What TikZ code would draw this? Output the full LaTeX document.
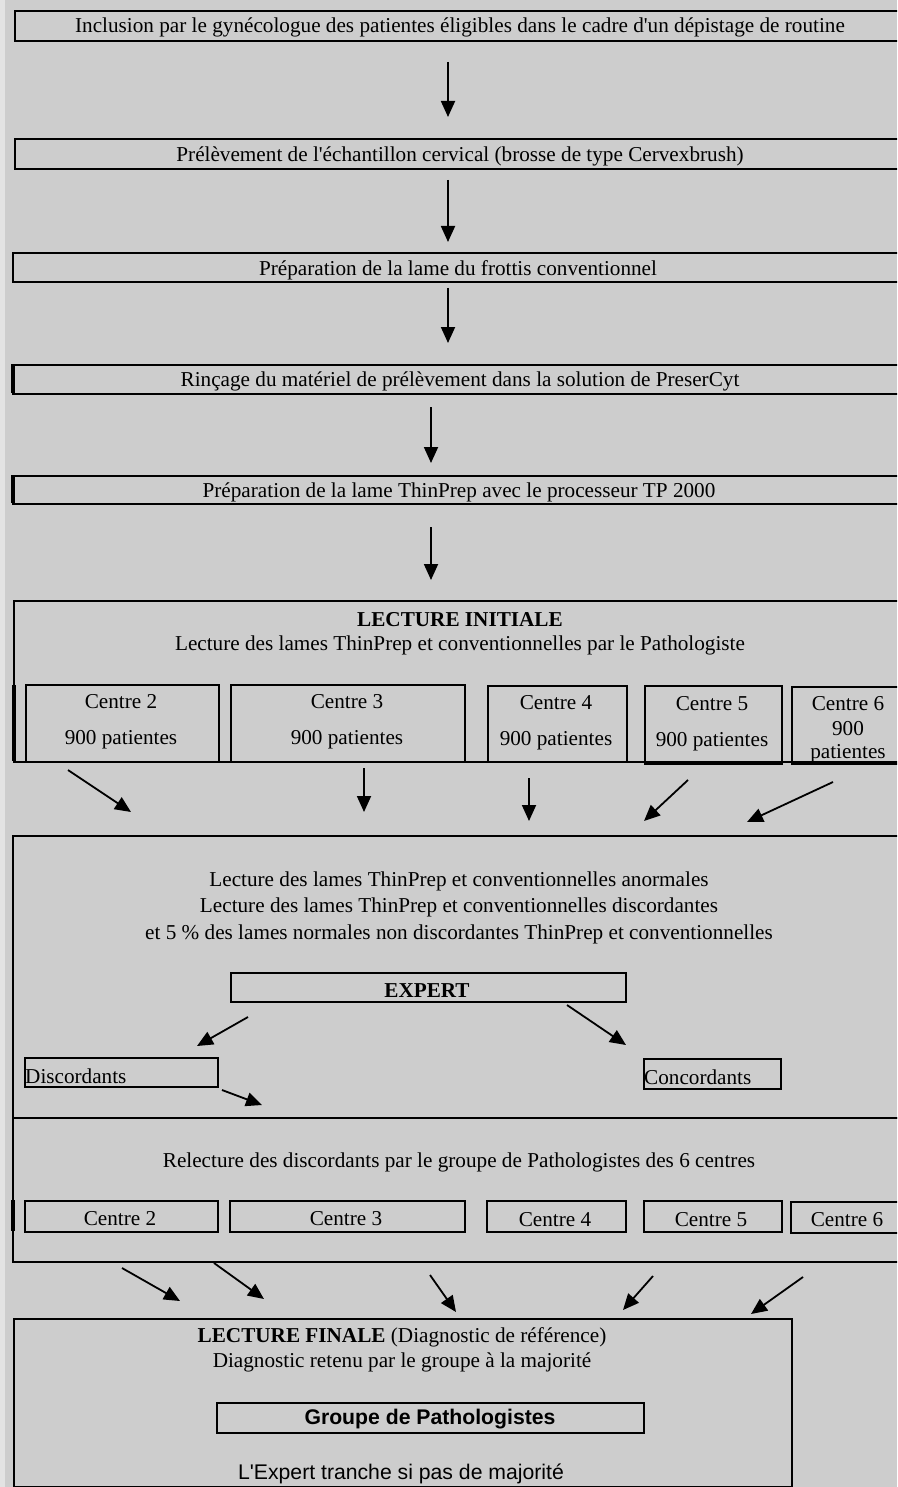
\documentclass[tikz,border=0pt]{standalone}
\usepackage{fontspec}
\setmainfont{Liberation Serif}[Ligatures=TeXOff]
\setsansfont{Liberation Sans}[Ligatures=TeXOff]
\usetikzlibrary{arrows.meta}
\definecolor{bg}{HTML}{CDCDCD}
\definecolor{strip}{HTML}{E3E3E3}
\begin{document}
\begin{tikzpicture}[x=1pt,y=-1pt,
  box/.style={draw, line width=1.7pt, inner sep=0pt, anchor=north west},
  arr/.style={-{Triangle[length=16pt,width=14pt]}, line width=1.8pt},
  txt/.style={font=\fontsize{21.2}{26.5}\selectfont, inner sep=0pt, align=center, yshift=-1.5pt},
  btxt/.style={font=\bfseries\fontsize{21.2}{26.5}\selectfont, inner sep=0pt, yshift=-1.5pt},
  stxt/.style={font=\sffamily\fontsize{21.2}{26.5}\selectfont, inner sep=0pt, yshift=-1.5pt},
  thick edge/.style={line width=3.5pt}]
\fill[bg] (0,0) rectangle (897,1487);
\fill[strip] (0,0) rectangle (5,1487);
\useasboundingbox (0,0) rectangle (897,1487);
\clip (0,0) rectangle (897,1487);

% --- linear steps ---
\node[box, minimum width=900, minimum height=30] (b1) at (14,10) {};
\node[txt] (t1) at (460,26) {Inclusion par le gynécologue des patientes éligibles dans le cadre d'un dépistage de routine};
\node[box, minimum width=900, minimum height=30] (b2) at (14,138) {};
\node[txt] (t2) at (460,155) {Prélèvement de l'échantillon cervical (brosse de type Cervexbrush)};
\node[box, minimum width=900, minimum height=29] (b3) at (12,252) {};
\node[txt] (t3) at (458,269) {Préparation de la lame du frottis conventionnel};
\node[box, minimum width=900, minimum height=29] (b4) at (12,364) {};
\node[txt] (t4) at (460,380) {Rinçage du matériel de prélèvement dans la solution de PreserCyt};
\node[box, minimum width=900, minimum height=28] (b5) at (12,475) {};
\node[txt] (t5) at (459,491) {Préparation de la lame ThinPrep avec le processeur TP 2000};
\draw[thick edge] (13,364) -- (13,393);
\draw[thick edge] (13,475) -- (13,503);

\coordinate (a1s) at (448,62);  \coordinate (a1e) at (448,117);
\coordinate (a2s) at (448,180); \coordinate (a2e) at (448,242);
\coordinate (a3s) at (448,288); \coordinate (a3e) at (448,343);
\coordinate (a4s) at (431,407); \coordinate (a4e) at (431,463);
\coordinate (a5s) at (431,527); \coordinate (a5e) at (431,580);
\foreach \i in {1,...,5} \draw[arr] (a\i s) -- (a\i e);

% --- lecture initiale ---
\node[box, minimum width=900, minimum height=161] (li) at (13,600) {};
\draw[thick edge] (14,685) -- (14,761);
\node[btxt] (liT) at (460,618) {LECTURE INITIALE};
\node[txt] (liS) at (460,644) {Lecture des lames ThinPrep et conventionnelles par le Pathologiste};

\node[box, minimum width=193, minimum height=77] (c2) at (25,684) {};
\node[box, minimum width=234, minimum height=77] (c3) at (230,684) {};
\node[box, minimum width=139, minimum height=76] (c4) at (487,685) {};
\node[box, minimum width=137, minimum height=78] (c5) at (644,685) {};
\node[box, minimum width=120, minimum height=77] (c6) at (791,686) {};
\node[txt] (c2a) at (121,700) {Centre 2};
\node[txt] (c2b) at (121,738) {900 patientes};
\node[txt] (c3a) at (347,700) {Centre 3};
\node[txt] (c3b) at (347,738) {900 patientes};
\node[txt] (c4a) at (556,701) {Centre 4};
\node[txt] (c4b) at (556,739) {900 patientes};
\node[txt] (c5a) at (712,702) {Centre 5};
\node[txt] (c5b) at (712,740) {900 patientes};
\node[txt] (c6a) at (848,702) {Centre 6};
\node[txt] (c6b) at (848,727) {900};
\node[txt] (c6c) at (848,752) {patientes};

\coordinate (b1s) at (68,770);  \coordinate (b1e) at (131,812);
\coordinate (b2s) at (364,768); \coordinate (b2e) at (364,812);
\coordinate (b3s) at (529,778); \coordinate (b3e) at (529,821);
\coordinate (b4s) at (688,780); \coordinate (b4e) at (644,821);
\coordinate (b5s) at (833,782); \coordinate (b5e) at (747,822);
\foreach \i in {1,...,5} \draw[arr] (b\i s) -- (b\i e);

% --- expert reading ---
\node[box, minimum width=900, minimum height=282] (mid) at (12,835) {};
\node[txt] (midT) at (459,906) {Lecture des lames ThinPrep et conventionnelles anormales\\Lecture des lames ThinPrep et conventionnelles discordantes\\et 5 \% des lames normales non discordantes ThinPrep et conventionnelles};
\node[box, minimum width=395, minimum height=29] (ex) at (230,972) {};
\node[btxt] (exT) at (427,989) {EXPERT};
\node[box, minimum width=193, minimum height=29] (dis) at (24,1057) {};
\node[txt, anchor=west] (disT) at (25,1075) {Discordants};
\node[box, minimum width=137, minimum height=30] (con) at (643,1058) {};
\node[txt, anchor=west] (conT) at (644,1076) {Concordants};

\coordinate (e1s) at (248,1017); \coordinate (e1e) at (197,1046);
\coordinate (e2s) at (567,1005); \coordinate (e2e) at (626,1045);
\coordinate (e3s) at (222,1090); \coordinate (e3e) at (262,1105);
\foreach \i in {1,2,3} \draw[arr] (e\i s) -- (e\i e);

% --- relecture ---
\node[box, minimum width=900, minimum height=144] (rel) at (12,1117) {};
\node[txt] (relT) at (459,1161) {Relecture des discordants par le groupe de Pathologistes des 6 centres};
\draw[thick edge] (13,1200) -- (13,1231);
\node[box, minimum width=193, minimum height=31] (r2) at (24,1200) {};
\node[box, minimum width=235, minimum height=31] (r3) at (229,1200) {};
\node[box, minimum width=139, minimum height=31] (r4) at (486,1200) {};
\node[box, minimum width=138, minimum height=31] (r5) at (643,1200) {};
\node[box, minimum width=120, minimum height=31] (r6) at (790,1201) {};
\node[txt] (r2T) at (120,1217) {Centre 2};
\node[txt] (r3T) at (346,1217) {Centre 3};
\node[txt] (r4T) at (555,1218) {Centre 4};
\node[txt] (r5T) at (711,1218) {Centre 5};
\node[txt] (r6T) at (847,1218) {Centre 6};

\coordinate (f1s) at (122,1268); \coordinate (f1e) at (180,1301);
\coordinate (f2s) at (214,1263); \coordinate (f2e) at (264,1299);
\coordinate (f3s) at (430,1275); \coordinate (f3e) at (456,1312);
\coordinate (f4s) at (653,1276); \coordinate (f4e) at (623,1310);
\coordinate (f5s) at (803,1277); \coordinate (f5e) at (751,1314);
\foreach \i in {1,...,5} \draw[arr] (f\i s) -- (f\i e);

% --- lecture finale ---
\node[box, minimum width=778, minimum height=168] (fin) at (13,1318) {};
\node[txt] (finT) at (402,1336) {\textbf{LECTURE FINALE} (Diagnostic de référence)};
\node[txt] (finS) at (402,1361) {Diagnostic retenu par le groupe à la majorité};
\node[box, minimum width=427, minimum height=30] (grp) at (216,1402) {};
\node[stxt, font=\sffamily\bfseries\fontsize{21.2}{26.5}\selectfont] (grpT) at (430,1418) {Groupe de Pathologistes};
\node[stxt] (expT) at (401,1472) {L'Expert tranche si pas de majorité};
\end{tikzpicture}
\end{document}
